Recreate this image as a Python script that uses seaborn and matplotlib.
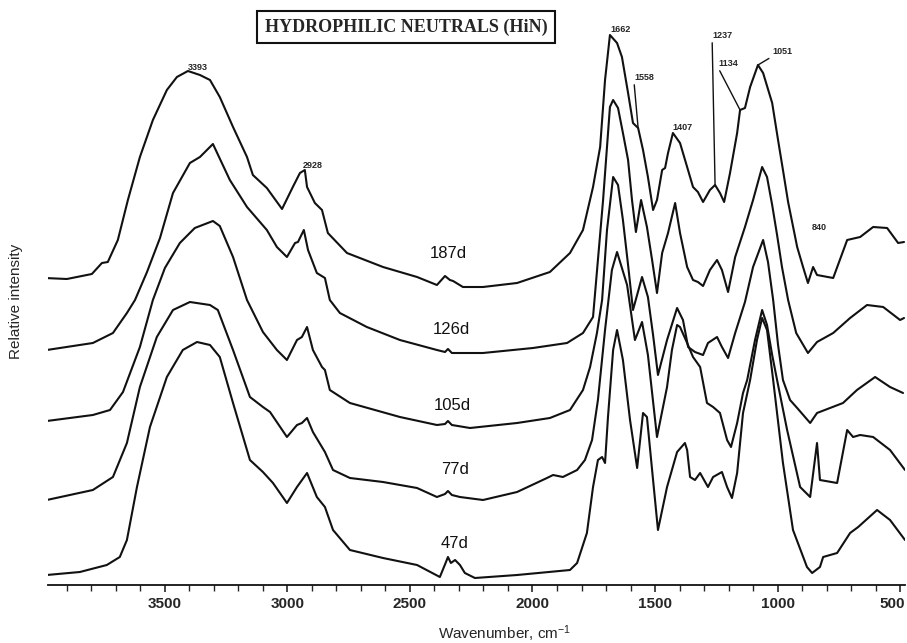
import numpy as np
import pandas as pd
import matplotlib
matplotlib.use("Agg")
import matplotlib.pyplot as plt
import matplotlib.transforms as mtransforms
from matplotlib.ticker import MultipleLocator
import seaborn as sns

# ---- spectra: wavenumber (cm-1) / stacked relative intensity ----
wn_187 = [3990, 3900, 3798, 3757, 3733, 3692, 3651, 3602, 3549, 3492, 3451, 3406, 3357, 3316, 3276,
          3222, 3165, 3141, 3084, 3022, 2978, 2949, 2929, 2920, 2888, 2859, 2835, 2757, 2610, 2471,
          2390, 2357, 2337, 2324, 2284, 2202, 2063, 1929, 1847, 1794, 1753, 1724, 1704, 1684, 1655,
          1635, 1610, 1590, 1569, 1549, 1529, 1508, 1492, 1471, 1459, 1447, 1427, 1398, 1369, 1345,
          1325, 1304, 1276, 1255, 1235, 1218, 1194, 1165, 1153, 1133, 1112, 1080, 1059, 1022, 998,
          978, 957, 920, 896, 876, 855, 839, 773, 716, 663, 610, 553, 508, 484]
in_187 = [307, 306, 311, 322, 323, 345, 385, 428, 465, 495, 508, 514, 510, 505, 488,
          458, 428, 410, 397, 376, 398, 412, 415, 398, 382, 375, 352, 332, 318, 308,
          300, 309, 305, 304, 298, 298, 302, 313, 332, 355, 398, 438, 505, 550, 542,
          528, 492, 462, 457, 435, 408, 375, 385, 415, 417, 432, 452, 442, 418, 398,
          393, 383, 395, 400, 392, 383, 412, 452, 475, 477, 498, 520, 512, 482, 445,
          415, 383, 338, 318, 302, 318, 310, 307, 345, 348, 358, 357, 342, 343]

wn_126 = [3982, 3794, 3712, 3655, 3622, 3573, 3520, 3467, 3398, 3357, 3304, 3235, 3165, 3084, 3043,
          3002, 2969, 2957, 2933, 2916, 2880, 2847, 2827, 2786, 2676, 2541, 2390, 2357, 2345, 2329,
          2202, 1998, 1859, 1794, 1753, 1712, 1684, 1671, 1651, 1631, 1610, 1594, 1578, 1557, 1533,
          1512, 1492, 1471, 1447, 1418, 1398, 1369, 1345, 1325, 1304, 1276, 1247, 1227, 1202, 1173,
          1133, 1100, 1063, 1043, 1022, 1002, 982, 957, 924, 876, 839, 773, 704, 635, 569, 500, 484]
in_126 = [235, 242, 252, 272, 285, 313, 347, 392, 422, 428, 441, 405, 378, 355, 338,
          328, 342, 343, 355, 335, 312, 307, 285, 272, 258, 245, 235, 233, 236, 232,
          232, 237, 242, 252, 268, 385, 478, 485, 477, 452, 425, 385, 353, 385, 358,
          325, 292, 332, 352, 382, 352, 318, 305, 303, 299, 315, 325, 315, 293, 328,
          358, 385, 418, 408, 380, 350, 318, 285, 252, 232, 243, 252, 267, 280, 278, 265, 267]

wn_105 = [3982, 3794, 3724, 3671, 3602, 3549, 3500, 3439, 3378, 3304, 3276, 3222, 3165, 3100, 3043,
          3002, 2961, 2941, 2920, 2896, 2859, 2847, 2827, 2745, 2541, 2390, 2357, 2345, 2329, 2255,
          2063, 1929, 1847, 1794, 1765, 1737, 1716, 1696, 1671, 1651, 1631, 1610, 1590, 1553, 1529,
          1508, 1488, 1451, 1410, 1386, 1365, 1337, 1304, 1284, 1247, 1227, 1202, 1173, 1133, 1100,
          1059, 1039, 1018, 998, 978, 949, 920, 867, 839, 733, 676, 602, 541, 488]
in_105 = [164, 170, 175, 193, 238, 285, 317, 342, 357, 364, 359, 328, 285, 253, 235,
          225, 245, 248, 258, 235, 218, 215, 195, 182, 168, 160, 161, 164, 160, 157,
          162, 167, 175, 195, 218, 252, 285, 355, 408, 400, 365, 320, 275, 308, 288,
          250, 210, 245, 277, 265, 238, 233, 230, 242, 248, 238, 227, 252, 283, 318,
          345, 323, 285, 240, 205, 185, 177, 162, 172, 182, 195, 208, 198, 192]

wn_77 = [3982, 3794, 3712, 3655, 3602, 3533, 3467, 3398, 3316, 3284, 3222, 3153, 3100, 3071, 3002,
         2961, 2941, 2920, 2896, 2847, 2814, 2745, 2610, 2471, 2390, 2357, 2345, 2329, 2296, 2202,
         2063, 1941, 1916, 1876, 1818, 1786, 1757, 1733, 1704, 1676, 1655, 1614, 1582, 1553, 1529,
         1492, 1451, 1431, 1410, 1398, 1369, 1345, 1316, 1288, 1263, 1235, 1206, 1190, 1165, 1141,
         1124, 1092, 1063, 1043, 1022, 1002, 961, 908, 867, 839, 827, 757, 716, 692, 663, 610, 541, 480]
in_77 = [85, 95, 108, 142, 198, 248, 275, 283, 280, 275, 235, 188, 178, 173, 148,
         160, 162, 167, 153, 133, 115, 107, 103, 97, 88, 91, 94, 90, 88, 85,
         93, 107, 110, 108, 115, 125, 145, 185, 255, 315, 333, 300, 245, 263, 230,
         148, 198, 235, 260, 258, 242, 228, 218, 182, 178, 172, 145, 138, 162, 192,
         205, 245, 275, 260, 230, 205, 155, 98, 88, 142, 105, 102, 155, 148, 150, 148, 135, 115]

wn_47 = [3982, 3847, 3737, 3684, 3655, 3614, 3561, 3492, 3427, 3369, 3316, 3276, 3222, 3153, 3100,
         3059, 3002, 2961, 2920, 2880, 2847, 2814, 2745, 2610, 2471, 2378, 2353, 2345, 2333, 2316,
         2296, 2276, 2235, 2063, 1847, 1818, 1778, 1753, 1733, 1716, 1704, 1692, 1671, 1655, 1631,
         1602, 1573, 1549, 1533, 1508, 1488, 1451, 1410, 1378, 1369, 1357, 1337, 1316, 1284, 1263,
         1227, 1206, 1186, 1165, 1141, 1112, 1084, 1063, 1043, 1018, 978, 937, 880, 859, 827,
         814, 757, 704, 671, 594, 541, 480]
in_47 = [10, 13, 20, 28, 45, 98, 158, 208, 235, 243, 240, 228, 182, 125, 113,
         102, 82, 98, 112, 88, 78, 55, 35, 27, 20, 8, 23, 28, 22, 25,
         20, 12, 7, 10, 15, 22, 52, 98, 125, 128, 122, 168, 235, 255, 225,
         165, 117, 172, 168, 105, 55, 98, 133, 142, 135, 108, 105, 112, 98, 108,
         113, 98, 87, 112, 172, 205, 245, 267, 255, 205, 122, 55, 18, 12, 18,
         28, 32, 52, 58, 75, 65, 45]

days = ["187d", "126d", "105d", "77d", "47d"]
day_lab_wn = [2345, 2329, 2329, 2316, 2316]
day_lab_in = [331, 255, 180, 115, 42]

# peak labels (text position and, where there is a leader line, the peak it points to)
peak_lab = ["3393", "2928", "1662", "1558", "1407", "1237", "1134", "1051", "840"]
peak_txt_wn = [3406, 2937, 1684, 1586, 1431, 1267, 1243, 1022, 859]
peak_txt_in = [517, 419, 556, 508, 457, 550, 522, 533, 357]
peak_tip_wn = [None, None, None, 1569, None, 1255, 1153, 1080, None]
peak_tip_in = [None, None, None, 457, None, 400, 475, 520, None]

tick_wn = [3500, 3000, 2500, 2000, 1500, 1000, 500]

sns.set_style("white")
plt.rcParams['font.family'] = ['Liberation Sans', 'DejaVu Sans']
plt.rcParams['mathtext.default'] = 'regular'

fig = plt.figure(figsize=(9.07, 6.43), dpi=100)
ax = fig.add_axes([48 / 907, 58 / 643, 857 / 907, 585 / 643])

spectra = [(wn_187, in_187), (wn_126, in_126), (wn_105, in_105), (wn_77, in_77), (wn_47, in_47)]
for (w, v), d in zip(spectra, days):
    df = pd.DataFrame({'wn': w, 'I': v})
    sns.lineplot(data=df, x='wn', y='I', sort=False, estimator=None,
                 color='#111111', lw=1.5, ax=ax)

for d, x, y in zip(days, day_lab_wn, day_lab_in):
    ax.text(x, y, d, ha='center', va='center', fontsize=12, color='#111111')

for lab, tx, ty, px, py in zip(peak_lab, peak_txt_wn, peak_txt_in, peak_tip_wn, peak_tip_in):
    if px is None:
        ax.text(tx, ty, lab, ha='left', va='center', fontsize=6.5, fontweight='bold')
    else:
        ax.annotate(lab, xy=(px, py), xytext=(tx, ty), ha='left', va='center',
                    fontsize=6.5, fontweight='bold',
                    arrowprops=dict(arrowstyle='-', lw=1.0, color='#111111',
                                    relpos=(0, 0), shrinkA=0, shrinkB=0))

ax.text(0.4177, 0.954, "HYDROPHILIC NEUTRALS (HiN)", transform=ax.transAxes,
        ha='center', va='center', fontsize=13, fontweight='bold', family='Liberation Serif',
        bbox=dict(boxstyle='square,pad=0.4', fc='white', ec='#111111', lw=1.5))

ax.set_xlim(3977, 480)
ax.set_ylim(0, 585)
ax.set_xticks(tick_wn)
ax.set_xticklabels([str(t) for t in tick_wn], fontweight='bold', fontsize=11)
ax.xaxis.set_minor_locator(MultipleLocator(100))
ax.tick_params(axis='x', which='major', direction='out', length=5, width=1.2, pad=4, bottom=True)
ax.tick_params(axis='x', which='minor', direction='out', length=4, width=1.0, bottom=True)
ax.set_yticks([])
ax.set_xlabel('')
ax.set_ylabel('')
for s in ['left', 'top', 'right']:
    ax.spines[s].set_visible(False)
ax.spines['bottom'].set_linewidth(1.3)
ax.spines['bottom'].set_color('#111111')

# last tick label sits against the right edge, nudge it inwards
last = ax.get_xticklabels()[-1]
last.set_transform(last.get_transform() +
                   mtransforms.ScaledTranslation(-8 / 100, 0, fig.dpi_scale_trans))

fig.text(505 / 907, 1 - 634 / 643, "Wavenumber, cm$^{-1}$", ha='center', va='center', fontsize=11)
fig.text(16 / 907, 1 - 301 / 643, "Relative intensity", ha='center', va='center',
         rotation=90, fontsize=11)

fig.savefig("out.png", dpi=100)
